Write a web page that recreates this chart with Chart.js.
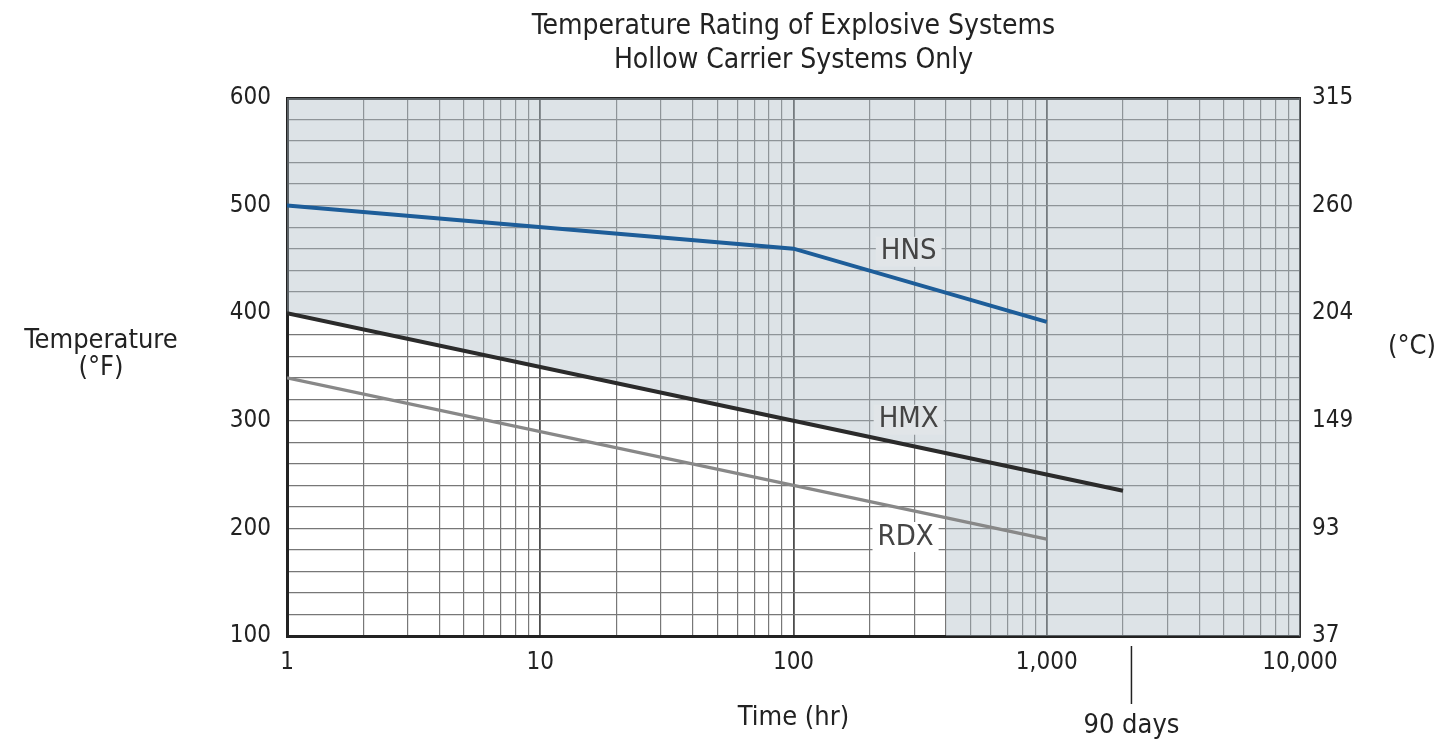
<!DOCTYPE html>
<html>
<head>
<meta charset="utf-8">
<script src="https://cdn.jsdelivr.net/npm/chart.js@4"></script>
<style>
  body { margin: 0; background: #fff; }
  #wrap { width: 1448px; height: 742px; position: relative; }
</style>
</head>
<body>
<div id="wrap"><canvas id="temp-chart"></canvas></div>
<script>
// values (time in hours, temperature in °F)
const hnsTime = [1, 100, 1000];
const hnsTemp = [500, 460, 392];
const hmxTime = [1, 100, 2000];
const hmxTemp = [400, 300, 235];
const rdxTime = [1, 1000];
const rdxTemp = [340, 190];

// shaded (not rated) zone: above HMX line, and everything past ~400 hr
const shadeTime = [1, 400, 400, 10000];
const shadeTemp = [400, 270, 100, 100];

const fTicks = [100, 200, 300, 400, 500, 600];
const cLabels = ['37', '93', '149', '204', '260', '315'];
const timeLabels = { 1: '1', 10: '10', 100: '100', 1000: '1,000', 10000: '10,000' };
const ninetyDays = 2160;

const seriesNames = ['HNS', 'HMX', 'RDX'];
const labelTime = [285, 285, 277];
const labelTemp = [457, 301, 192];
const labelBg = ['#e1e5e8', '#e1e5e8', '#ffffff'];

const FONT = "'Liberation Sans Narrow', 'DejaVu Sans Condensed', 'Roboto', sans-serif";

const toPoints = (xs, ys) => xs.map((x, i) => ({ x: x, y: ys[i] }));

// log grid: 1..9 per decade
function logTicks() {
    const t = [];
    for (let d = 1; d < 10000; d *= 10) {
        for (let m = 1; m < 10; m++) t.push({ value: m * d });
    }
    t.push({ value: 10000 });
    return t;
}

const extras = {
    id: 'extras',
    afterDatasetsDraw(chart) {
        const ctx = chart.ctx;
        const xs = chart.scales.x, ys = chart.scales.y;
        const area = chart.chartArea;
        ctx.save();
        ctx.font = '29px ' + FONT;
        ctx.textAlign = 'center';
        ctx.textBaseline = 'middle';
        // series names sitting on the grid
        seriesNames.forEach((name, i) => {
            const px = xs.getPixelForValue(labelTime[i]);
            const py = ys.getPixelForValue(labelTemp[i]);
            const w = ctx.measureText(name).width + 10;
            ctx.fillStyle = labelBg[i];
            ctx.fillRect(px - w / 2, py - 15, w, 30);
            ctx.fillStyle = '#444';
            ctx.fillText(name, px, py);
        });

        ctx.fillStyle = '#222';
        // title
        ctx.font = '28px ' + FONT;
        const cx = (area.left + area.right) / 2;
        ctx.fillText('Temperature Rating of Explosive Systems', cx, 27);
        ctx.fillText('Hollow Carrier Systems Only', cx, 61);

        // axis captions
        ctx.font = '27px ' + FONT;
        ctx.fillText('Temperature', 101, 341);
        ctx.fillText('(\u00B0F)', 101, 368);
        ctx.fillText('(\u00B0C)', 1412, 347);
        ctx.fillText('Time (hr)', cx, 718);

        // 90 days marker
        const dx = xs.getPixelForValue(ninetyDays);
        ctx.strokeStyle = '#222';
        ctx.lineWidth = 1.5;
        ctx.beginPath();
        ctx.moveTo(dx, area.bottom + 10);
        ctx.lineTo(dx, area.bottom + 68);
        ctx.stroke();
        ctx.fillText('90 days', dx, 726);
        ctx.restore();
    }
};

const ctx = document.getElementById('temp-chart').getContext('2d');
new Chart(ctx, {
    type: 'line',
    data: {
        datasets: [
            {
                label: 'shade',
                data: toPoints(shadeTime, shadeTemp),
                borderWidth: 0,
                pointRadius: 0,
                backgroundColor: 'rgba(175, 188, 198, 0.42)',
                fill: 'end',
                tension: 0,
                order: 10
            },
            {
                label: 'HNS',
                data: toPoints(hnsTime, hnsTemp),
                borderColor: '#1d5d99',
                borderWidth: 4,
                pointRadius: 0,
                fill: false,
                order: 1
            },
            {
                label: 'HMX',
                data: toPoints(hmxTime, hmxTemp),
                borderColor: '#2b2b2b',
                borderWidth: 4,
                pointRadius: 0,
                fill: false,
                order: 1
            },
            {
                label: 'RDX',
                data: toPoints(rdxTime, rdxTemp),
                borderColor: '#888888',
                borderWidth: 3.2,
                pointRadius: 0,
                fill: false,
                order: 1
            }
        ]
    },
    options: {
        responsive: true,
        maintainAspectRatio: false,
        animation: false,
        layout: { padding: { top: 98, bottom: 0, left: 0, right: 0 } },
        plugins: {
            legend: { display: false },
            tooltip: { enabled: false }
        },
        scales: {
            x: {
                type: 'logarithmic',
                min: 1,
                max: 10000,
                afterBuildTicks: scale => { scale.ticks = logTicks(); },
                afterFit: scale => { scale.height = 106; },
                ticks: {
                    autoSkip: false,
                    maxRotation: 0,
                    padding: 12,
                    color: '#222',
                    font: { family: FONT, size: 24 },
                    callback: v => timeLabels[v] || ''
                },
                grid: {
                    drawTicks: false,
                    color: c => timeLabels[c.tick && c.tick.value] ? '#4d4d4d' : '#777',
                    lineWidth: c => timeLabels[c.tick && c.tick.value] ? 1.8 : 1.2
                },
                border: { display: true, color: '#222', width: 3 }
            },
            y: {
                type: 'linear',
                position: 'left',
                min: 100,
                max: 600,
                afterFit: scale => { scale.width = 287; },
                ticks: {
                    stepSize: 20,
                    autoSkip: false,
                    padding: 16,
                    color: '#222',
                    font: { family: FONT, size: 24 },
                    callback: v => fTicks.includes(v) ? String(v) : ''
                },
                grid: {
                    drawTicks: false,
                    color: c => (c.tick && c.tick.value === 600) ? '#222' : '#777',
                    lineWidth: c => (c.tick && c.tick.value === 600) ? 3 : 1.2
                },
                border: { display: true, color: '#222', width: 3 }
            },
            y2: {
                type: 'linear',
                position: 'right',
                min: 100,
                max: 600,
                afterFit: scale => { scale.width = 148; },
                ticks: {
                    stepSize: 100,
                    padding: 12,
                    color: '#222',
                    font: { family: FONT, size: 24 },
                    callback: v => cLabels[fTicks.indexOf(v)] || ''
                },
                grid: { display: false, drawTicks: false },
                border: { display: true, color: '#333', width: 2 }
            }
        }
    },
    plugins: [extras]
});
</script>
</body>
</html>
